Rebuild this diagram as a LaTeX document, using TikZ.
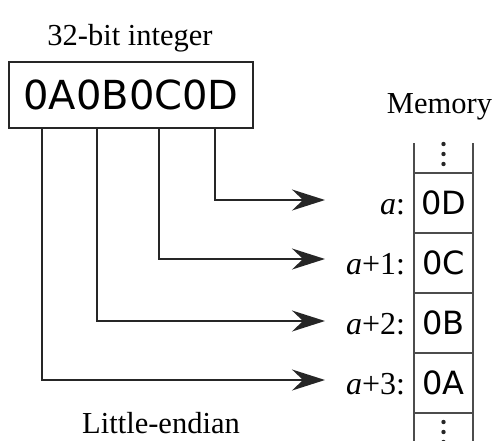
\documentclass[tikz,border=0pt]{standalone}
\usepackage{fontspec}
\setmainfont{Liberation Serif}
\newfontfamily\hexfont{DejaVu Sans}
\usetikzlibrary{arrows.meta}

\begin{document}
\begin{tikzpicture}
        [
            x = 1pt, y = -1pt,
            line width              = 2pt,
            every node/.style       = {inner sep=0pt, outer sep=0pt},
            caption/.style          = {anchor=base, font=\fontsize{30.5}{36}\selectfont},
            word/.style             = {shape=rectangle, draw=black!85, minimum width=244pt, minimum height=66pt,
                                       font=\hexfont\fontsize{40}{48}\selectfont},
            cell/.style             = {shape=rectangle, draw=black!70, minimum width=59pt, minimum height=60pt,
                                       font=\hexfont\fontsize{32}{38}\selectfont},
            addr/.style             = {anchor=base east, font=\fontsize{32}{38}\selectfont},
            tap/.style              = {draw=black!85, -{Stealth[length=33pt, width=21pt, inset=11pt]}},
            ]
            \useasboundingbox (0,0) rectangle (495,440);
            \node [caption] (title) at (130,45) {32-bit integer};
            \node [word] (int) at (131,95) {0A0B0C0D};
            \node [caption] (mem) at (439.5,113) {Memory};
            \node [caption] (order) at (161,433) {Little-endian};
            % memory column
            \foreach \v [count=\i from 0] in {0D,0C,0B,0A}
                \node [cell] (c\i) at (443.5,203+60*\i) {\v};
            \draw [black!70] (c0.north west) -- ++(0,-30);
            \draw [black!70] (c0.north east) -- ++(0,-30);
            \draw [black!70] (c3.south west) -- ++(0,30);
            \draw [black!70] (c3.south east) -- ++(0,30);
            \foreach \d in {9,19,29}
            {
                \fill [black!85] ([yshift=\d pt]c0.north) circle (2.2pt);
                \fill [black!85] ([yshift=-\d pt]c3.south) circle (2.2pt);
            }
            % addresses
            \foreach \t [count=\i from 0] in {\textit{a}:, \textit{a}+1:, \textit{a}+2:, \textit{a}+3:}
                \node [addr] (a\i) at ([xshift=-9pt]c\i.base west) {\t};
            % bytes to memory
            \foreach \i/\hx/\ty in {0/215/200, 1/159/259, 2/97/321, 3/42/380}
            {
                \coordinate (from\i) at (int.south -| \hx,0);
                \coordinate (to\i) at (325,\ty);
                \draw [tap] (from\i) |- (to\i);
            }
        \end{tikzpicture}
\end{document}
